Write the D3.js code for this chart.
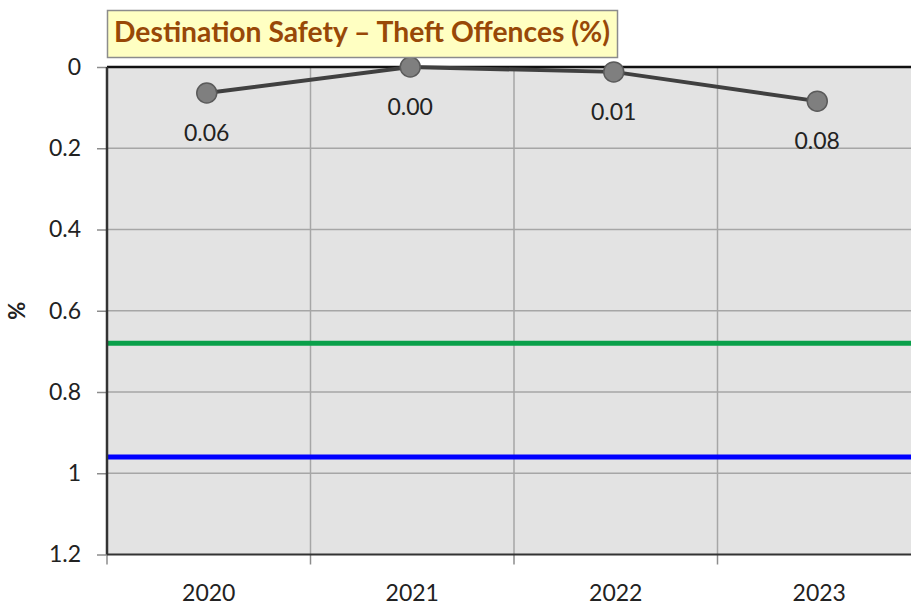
<!DOCTYPE html>
<html>
<head>
<meta charset="utf-8">
<script src="https://cdn.jsdelivr.net/npm/d3@7"></script>
<style>
  html, body { margin: 0; padding: 0; background: #ffffff; overflow: hidden; }
  svg { display: block; }
</style>
</head>
<body>
<svg id="chart" width="911" height="605"></svg>
<script>
// ---- data ----
const years = ["2020", "2021", "2022", "2023"];
const theftValues = [0.064, 0.0, 0.012, 0.084];
const yTickValues = [0, 0.2, 0.4, 0.6, 0.8, 1, 1.2];
const greenRefValue = 0.68;
const blueRefValue = 0.96;
const titleText = "Destination Safety \u2013 Theft Offences (%)";
const yAxisTitle = "%";

// ---- layout ----
const svg = d3.select("#chart");
const plotLeft = 107, plotRight = 921, plotTop = 67, plotBottom = 554.5;
const FONT = "Lato, 'Open Sans', 'DejaVu Sans', sans-serif";

const x = d3.scaleBand().domain(years).range([plotLeft, plotRight]).padding(0);
const y = d3.scaleLinear().domain([0, 1.2]).range([plotTop, plotBottom]);

// plot background
svg.append("rect")
  .attr("x", plotLeft).attr("y", plotTop)
  .attr("width", plotRight - plotLeft).attr("height", plotBottom - plotTop)
  .attr("fill", "#e3e3e3");

// horizontal gridlines
svg.append("g").selectAll("line").data(yTickValues.slice(1, -1)).join("line")
  .attr("x1", plotLeft).attr("x2", plotRight)
  .attr("y1", d => y(d)).attr("y2", d => y(d))
  .attr("stroke", "#a6a6a6").attr("stroke-width", 1.5);

// vertical gridlines at category boundaries
const boundaries = years.slice(1).map(d => x(d));
svg.append("g").selectAll("line").data(boundaries).join("line")
  .attr("x1", d => d).attr("x2", d => d)
  .attr("y1", plotTop).attr("y2", plotBottom)
  .attr("stroke", "#a6a6a6").attr("stroke-width", 1.5);

// reference lines
svg.append("line")
  .attr("x1", plotLeft).attr("x2", plotRight)
  .attr("y1", y(greenRefValue)).attr("y2", y(greenRefValue))
  .attr("stroke", "#0aa04a").attr("stroke-width", 5);
svg.append("line")
  .attr("x1", plotLeft).attr("x2", plotRight)
  .attr("y1", y(blueRefValue)).attr("y2", y(blueRefValue))
  .attr("stroke", "#0000ff").attr("stroke-width", 5);

// Y axis
const yAxis = d3.axisLeft(y).tickValues(yTickValues).tickSize(10).tickPadding(16).tickFormat(d3.format("~g"));
const gy = svg.append("g").attr("transform", `translate(${plotLeft},0)`).call(yAxis);
gy.select(".domain").remove();
gy.selectAll(".tick line").attr("stroke", "#8c8c8c").attr("stroke-width", 1.5);
gy.selectAll(".tick text").attr("font-family", FONT).attr("font-size", 23).attr("fill", "#222");

// X axis
const xAxis = d3.axisBottom(x).tickSize(0).tickPadding(30);
const gx = svg.append("g").attr("transform", `translate(0,${plotBottom})`).call(xAxis);
gx.select(".domain").remove();
gx.selectAll(".tick text").attr("font-family", FONT).attr("font-size", 23).attr("fill", "#222");
// category boundary tick marks below axis
svg.append("g").selectAll("line").data([plotLeft].concat(boundaries)).join("line")
  .attr("x1", d => d).attr("x2", d => d)
  .attr("y1", plotBottom).attr("y2", plotBottom + 10)
  .attr("stroke", "#8c8c8c").attr("stroke-width", 1.5);

// plot borders
svg.append("line").attr("x1", plotLeft).attr("x2", plotRight)
  .attr("y1", plotTop).attr("y2", plotTop)
  .attr("stroke", "#111").attr("stroke-width", 2.5);
svg.append("line").attr("x1", plotLeft).attr("x2", plotRight)
  .attr("y1", plotBottom).attr("y2", plotBottom)
  .attr("stroke", "#333").attr("stroke-width", 2);
svg.append("line").attr("x1", plotLeft).attr("x2", plotLeft)
  .attr("y1", plotTop).attr("y2", plotBottom)
  .attr("stroke", "#333").attr("stroke-width", 2.5);

// Y axis title
svg.append("text")
  .attr("transform", `translate(25,${(plotTop + plotBottom) / 2}) rotate(-90)`)
  .attr("text-anchor", "middle")
  .attr("font-family", FONT).attr("font-size", 22).attr("font-weight", "bold")
  .attr("fill", "#222")
  .text(yAxisTitle);

// series
const pts = years.map((yr, i) => ({ yr, v: theftValues[i] }));
const cx = d => x(d.yr) + x.bandwidth() / 2 - 2;
svg.append("path")
  .datum(pts)
  .attr("fill", "none").attr("stroke", "#404040").attr("stroke-width", 4)
  .attr("d", d3.line().x(cx).y(d => y(d.v)));
svg.append("g").selectAll("circle").data(pts).join("circle")
  .attr("cx", cx).attr("cy", d => y(d.v)).attr("r", 10)
  .attr("fill", "#7f7f7f").attr("stroke", "#5a5a5a").attr("stroke-width", 1.5);

// data labels
svg.append("g").selectAll("text").data(pts).join("text")
  .attr("x", cx).attr("y", d => y(d.v) + 48)
  .attr("text-anchor", "middle")
  .attr("font-family", FONT).attr("font-size", 23).attr("fill", "#222")
  .text(d => d.v.toFixed(2));

// title box
const tb = svg.append("g");
tb.append("rect")
  .attr("x", 107.5).attr("y", 10.5).attr("width", 510).attr("height", 47)
  .attr("fill", "#ffffc2").attr("stroke", "#8c8c8c").attr("stroke-width", 1.5);
const tt = tb.append("text")
  .attr("x", 362).attr("y", 42)
  .attr("text-anchor", "middle")
  .attr("font-family", FONT).attr("font-weight", "bold").attr("font-size", 24)
  .attr("fill", "#984807")
  .text(titleText);
const w = tt.node().getComputedTextLength();
tt.attr("font-size", 24 * 496 / w);
</script>
</body>
</html>
